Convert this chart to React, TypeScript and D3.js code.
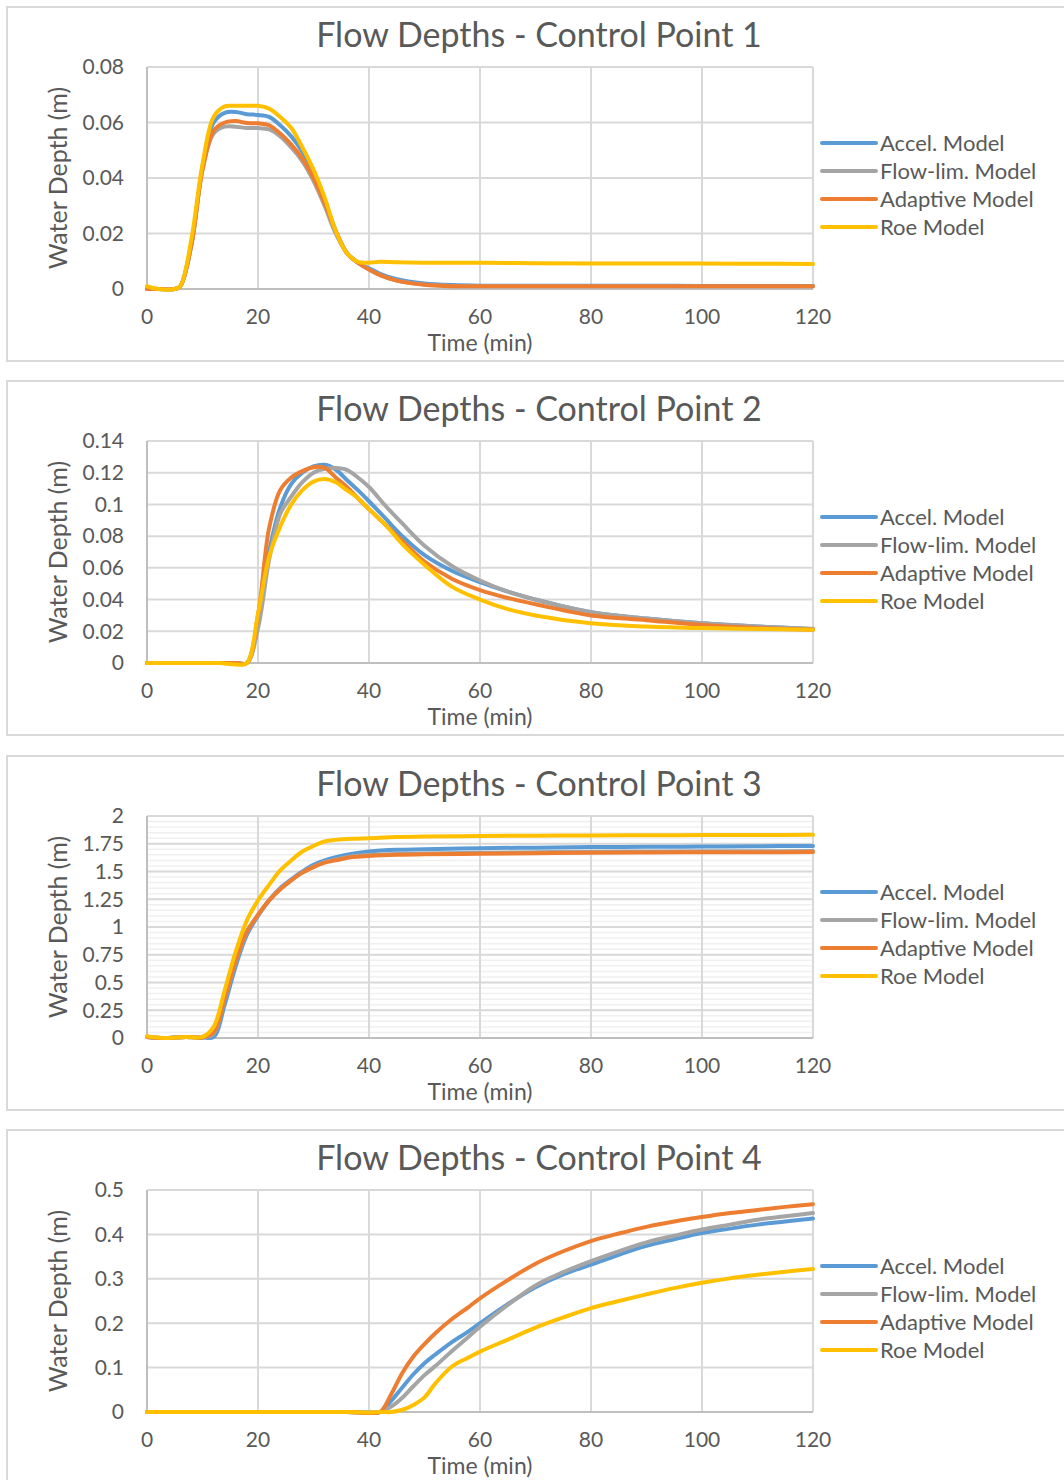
import * as d3 from "d3";

// ---- data ----
const seriesNames = ["Accel. Model", "Flow-lim. Model", "Adaptive Model", "Roe Model"];
const seriesColors = ["#5B9BD5", "#A5A5A5", "#ED7D31", "#FFC000"];
const xTicks = [0, 20, 40, 60, 80, 100, 120];

// Control point 1
const cp1Time = [0, 2, 5, 6, 8, 10, 12, 14, 16, 18, 20, 22, 24, 26, 28, 30, 32, 34, 36, 38, 40, 42, 45, 50, 55, 60, 70, 80, 90, 100, 110, 120];
const cp1Accel = [0, 0, 0, 0.001, 0.016, 0.044, 0.06, 0.0635, 0.0638, 0.063, 0.0627, 0.062, 0.059, 0.055, 0.0495, 0.042, 0.032, 0.021, 0.013, 0.0095, 0.0075, 0.0055, 0.0035, 0.002, 0.0014, 0.0012, 0.0012, 0.0012, 0.0012, 0.0011, 0.0011, 0.0011];
const cp1Flow = [0, 0, 0, 0.001, 0.016, 0.043, 0.056, 0.0585, 0.0585, 0.058, 0.058, 0.0575, 0.055, 0.051, 0.046, 0.039, 0.03, 0.02, 0.013, 0.0095, 0.007, 0.005, 0.003, 0.0016, 0.0011, 0.001, 0.001, 0.001, 0.001, 0.001, 0.001, 0.001];
const cp1Adaptive = [0, 0, 0, 0.001, 0.016, 0.043, 0.057, 0.06, 0.0605, 0.0598, 0.0597, 0.059, 0.056, 0.052, 0.047, 0.04, 0.031, 0.021, 0.013, 0.0095, 0.007, 0.005, 0.003, 0.0015, 0.001, 0.001, 0.001, 0.001, 0.001, 0.001, 0.001, 0.001];
const cp1Roe = [0.001, 0, 0, 0.001, 0.018, 0.045, 0.062, 0.0658, 0.066, 0.066, 0.066, 0.065, 0.062, 0.058, 0.051, 0.043, 0.033, 0.021, 0.013, 0.0098, 0.0095, 0.0098, 0.0096, 0.0095, 0.0095, 0.0095, 0.0093, 0.0092, 0.0092, 0.0092, 0.0091, 0.009];
const cp1YTicks = [0, 0.02, 0.04, 0.06, 0.08];

// Control point 2
const cp2Time = [0, 5, 10, 13, 16, 18, 20, 22, 24, 26, 28, 30, 32, 34, 36, 38, 40, 43, 46, 50, 55, 60, 65, 70, 80, 90, 100, 110, 120];
const cp2Accel = [0, 0, 0, 0, 0, 0, 0.025, 0.07, 0.098, 0.113, 0.12, 0.124, 0.125, 0.122, 0.1154, 0.109, 0.102, 0.091, 0.08, 0.068, 0.058, 0.051, 0.045, 0.04, 0.032, 0.028, 0.025, 0.023, 0.0215];
const cp2Flow = [0, 0, 0, 0, 0, 0, 0.022, 0.065, 0.094, 0.105, 0.114, 0.12, 0.1225, 0.123, 0.1218, 0.117, 0.111, 0.099, 0.088, 0.074, 0.061, 0.052, 0.045, 0.04, 0.032, 0.028, 0.025, 0.023, 0.0215];
const cp2Adaptive = [0, 0, 0, 0, 0, 0, 0.03, 0.085, 0.109, 0.117, 0.121, 0.1235, 0.123, 0.117, 0.111, 0.104, 0.097, 0.087, 0.077, 0.064, 0.053, 0.046, 0.041, 0.037, 0.03, 0.027, 0.024, 0.022, 0.021];
const cp2Roe = [0, 0, 0, 0, -0.001, 0, 0.031, 0.067, 0.086, 0.1, 0.109, 0.1144, 0.116, 0.114, 0.109, 0.104, 0.097, 0.087, 0.075, 0.062, 0.048, 0.04, 0.034, 0.03, 0.025, 0.023, 0.022, 0.0215, 0.021];
const cp2YTicks = [0, 0.02, 0.04, 0.06, 0.08, 0.1, 0.12, 0.14];

// Control point 3
const cp3Time = [0, 3, 7, 10, 12, 14, 16, 18, 20, 22, 24, 26, 28, 30, 32, 34, 37, 40, 45, 50, 60, 70, 80, 90, 100, 110, 120];
const cp3Accel = [0.01, 0, 0.01, 0.005, 0.01, 0.3, 0.65, 0.93, 1.1, 1.24, 1.35, 1.43, 1.5, 1.56, 1.6, 1.63, 1.66, 1.68, 1.695, 1.7, 1.71, 1.715, 1.72, 1.722, 1.725, 1.728, 1.73];
const cp3Flow = [0.01, 0, 0.01, 0.005, 0.04, 0.35, 0.69, 0.955, 1.105, 1.24, 1.342, 1.422, 1.492, 1.545, 1.585, 1.608, 1.638, 1.648, 1.658, 1.663, 1.668, 1.673, 1.678, 1.68, 1.682, 1.683, 1.684];
const cp3Adaptive = [0.01, 0, 0.01, 0.005, 0.05, 0.36, 0.7, 0.96, 1.11, 1.24, 1.34, 1.42, 1.49, 1.54, 1.58, 1.6, 1.63, 1.64, 1.65, 1.655, 1.66, 1.665, 1.67, 1.672, 1.673, 1.674, 1.675];
const cp3Roe = [0.015, 0, 0.01, 0.01, 0.1, 0.43, 0.78, 1.06, 1.24, 1.38, 1.51, 1.6, 1.68, 1.73, 1.77, 1.785, 1.795, 1.8, 1.81, 1.815, 1.82, 1.822, 1.825, 1.826, 1.828, 1.829, 1.83];
const cp3YTicks = [0, 0.25, 0.5, 0.75, 1, 1.25, 1.5, 1.75, 2];
const cp3MinorTicks = d3.range(0.05, 2, 0.05);

// Control point 4
const cp4Time = [0, 10, 20, 30, 36, 40, 42, 44, 46, 48, 50, 52, 55, 58, 60, 65, 70, 75, 80, 85, 90, 95, 100, 105, 110, 115, 120];
const cp4Accel = [0, 0, 0, 0, 0, -0.001, 0, 0.025, 0.055, 0.085, 0.11, 0.13, 0.158, 0.182, 0.2, 0.243, 0.281, 0.31, 0.332, 0.354, 0.374, 0.389, 0.403, 0.413, 0.422, 0.429, 0.436];
const cp4Flow = [0, 0, 0, 0, 0, -0.001, 0, 0.012, 0.032, 0.058, 0.083, 0.104, 0.138, 0.17, 0.192, 0.241, 0.285, 0.315, 0.34, 0.362, 0.382, 0.397, 0.411, 0.422, 0.433, 0.441, 0.448];
const cp4Adaptive = [0, 0, 0, 0, 0, -0.002, 0, 0.04, 0.088, 0.125, 0.153, 0.178, 0.21, 0.237, 0.256, 0.297, 0.334, 0.362, 0.385, 0.402, 0.417, 0.429, 0.439, 0.448, 0.455, 0.462, 0.468];
const cp4Roe = [0, 0, 0, 0, 0, -0.001, 0, 0, 0.005, 0.016, 0.033, 0.065, 0.103, 0.123, 0.136, 0.163, 0.19, 0.213, 0.234, 0.25, 0.265, 0.279, 0.291, 0.301, 0.309, 0.316, 0.322];
const cp4YTicks = [0, 0.1, 0.2, 0.3, 0.4, 0.5];

const charts = [
  { title: "Flow Depths - Control Point 1", time: cp1Time, series: [cp1Accel, cp1Flow, cp1Adaptive, cp1Roe], yTicks: cp1YTicks, minor: [] as number[] },
  { title: "Flow Depths - Control Point 2", time: cp2Time, series: [cp2Accel, cp2Flow, cp2Adaptive, cp2Roe], yTicks: cp2YTicks, minor: [] as number[] },
  { title: "Flow Depths - Control Point 3", time: cp3Time, series: [cp3Accel, cp3Flow, cp3Adaptive, cp3Roe], yTicks: cp3YTicks, minor: cp3MinorTicks },
  { title: "Flow Depths - Control Point 4", time: cp4Time, series: [cp4Accel, cp4Flow, cp4Adaptive, cp4Roe], yTicks: cp4YTicks, minor: [] as number[] },
];

const W = 1064;
const H = 1480;
const FONT = "Lato, 'Open Sans', sans-serif";
const TEXT = "#595959";
const GRID = "#D9D9D9";

function Chart({ cfg, top }: { cfg: (typeof charts)[number]; top: number }) {
  const plotTop = top + 60;
  const plotBottom = top + 282;
  const x = d3.scaleLinear().domain([0, 120]).range([147, 813]);
  const yMax = cfg.yTicks[cfg.yTicks.length - 1];
  const y = d3.scaleLinear().domain([0, yMax]).range([plotBottom, plotTop]);
  // smoothed lines, like the spreadsheet's smoothed scatter
  const line = d3
    .line<number>()
    .x((_, i) => x(cfg.time[i]))
    .y((d) => y(d))
    .curve(d3.curveCatmullRom.alpha(0.5));
  const fmt = (v: number) => String(+v.toFixed(2));

  return (
    <g>
      <rect x={7} y={top} width={1080} height={354} fill="#fff" stroke={GRID} strokeWidth={2} />
      <text x={539} y={top + 40} textAnchor="middle" fontSize={34} fill={TEXT} fontFamily={FONT}>
        {cfg.title}
      </text>
      {cfg.minor.map((v) => (
        <line key={"m" + v} x1={x(0)} x2={x(120)} y1={y(v)} y2={y(v)} stroke="#F0F0F0" strokeWidth={1.5} />
      ))}
      {cfg.yTicks.map((v) => (
        <line key={"h" + v} x1={x(0)} x2={x(120)} y1={y(v)} y2={y(v)} stroke={GRID} strokeWidth={2} />
      ))}
      {xTicks.map((v) => (
        <line key={"v" + v} x1={x(v)} x2={x(v)} y1={plotTop} y2={plotBottom} stroke={GRID} strokeWidth={2} />
      ))}
      <line x1={x(0)} x2={x(0)} y1={plotTop} y2={plotBottom} stroke="#BFBFBF" strokeWidth={2} />
      <line x1={x(0)} x2={x(120)} y1={plotBottom} y2={plotBottom} stroke="#BFBFBF" strokeWidth={2} />
      {cfg.yTicks.map((v) => (
        <text key={"yl" + v} x={124} y={y(v)} dy="0.35em" textAnchor="end" fontSize={21} fill={TEXT} fontFamily={FONT}>
          {fmt(v)}
        </text>
      ))}
      {xTicks.map((v) => (
        <text key={"xl" + v} x={x(v)} y={plotBottom + 34.5} textAnchor="middle" fontSize={21} fill={TEXT} fontFamily={FONT}>
          {v}
        </text>
      ))}
      <text x={480} y={plotBottom + 62} textAnchor="middle" fontSize={23} fill={TEXT} fontFamily={FONT}>
        Time (min)
      </text>
      <text
        transform={`translate(67,${(plotTop + plotBottom) / 2}) rotate(-90)`}
        textAnchor="middle"
        fontSize={25}
        fill={TEXT}
        fontFamily={FONT}
      >
        Water Depth (m)
      </text>
      {cfg.series.map((s, i) => (
        <path key={"s" + i} d={line(s) || ""} fill="none" stroke={seriesColors[i]} strokeWidth={4} strokeLinejoin="round" strokeLinecap="round" />
      ))}
      {seriesNames.map((name, i) => (
        <g key={"lg" + i}>
          <line x1={822} x2={876} y1={top + 136 + i * 28} y2={top + 136 + i * 28} stroke={seriesColors[i]} strokeWidth={4} strokeLinecap="round" />
          <text x={880} y={top + 136 + i * 28} dy="0.35em" fontSize={22} fill={TEXT} fontFamily={FONT}>
            {name}
          </text>
        </g>
      ))}
    </g>
  );
}

export default function App() {
  const tops = [7, 381, 756, 1130];
  return (
    <svg width={W} height={H} style={{ display: "block", position: "absolute", left: 0, top: 0 }}>
      <rect width={W} height={H} fill="#fff" />
      {charts.map((c, i) => (
        <Chart key={c.title} cfg={c} top={tops[i]} />
      ))}
    </svg>
  );
}
